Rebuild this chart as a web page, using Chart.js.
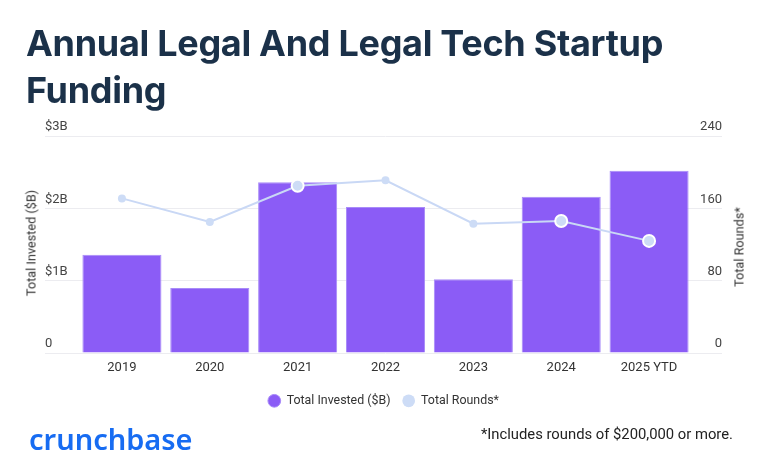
<!DOCTYPE html>
<html>
<head>
<meta charset="utf-8">
<script src="https://cdn.jsdelivr.net/npm/chart.js@4.4.1/dist/chart.umd.min.js"></script>
<style>
    html, body { margin: 0; padding: 0; background: #fff; }
    #wrap { position: relative; width: 772px; height: 472px; overflow: hidden; }
    #chart { position: absolute; left: 0; top: 0; }
    .title {
        position: absolute; left: 26px; top: 20px; margin: 0;
        font-family: Inter, sans-serif; font-weight: 700; font-size: 36px;
        line-height: 47px; color: #1b3149; letter-spacing: -0.3px;
    }
    .axis-title {
        position: absolute; font-family: Roboto, sans-serif; font-size: 12.7px;
        color: #333; white-space: nowrap; transform-origin: center center;
        transform: translate(-50%, -50%) rotate(-90deg);
    }
    .logo {
        position: absolute; left: 29px; top: 419px;
        font-family: "Noto Sans", sans-serif; font-weight: 600; font-size: 29px;
        color: #176cf2;
    }
    .note {
        position: absolute; right: 39px; top: 425px;
        font-family: Roboto, sans-serif; font-size: 14.8px; color: #222;
    }
</style>
</head>
<body>
<div id="wrap">
    <canvas id="chart" width="772" height="472"></canvas>
    <h1 class="title">Annual Legal And Legal Tech Startup<br>Funding</h1>
    <div class="axis-title" style="left:31px; top:243px;">Total Invested ($B)</div>
    <div class="axis-title" style="left:739px; top:247px;">Total Rounds*</div>
    <div class="logo">crunchbase</div>
    <div class="note">*Includes rounds of $200,000 or more.</div>
</div>
<script>
// --- DATA ---
const years = ['2019', '2020', '2021', '2022', '2023', '2024', '2025 YTD'];
const investedB = [1.36, 0.90, 2.36, 2.02, 1.02, 2.16, 2.52];
const totalRounds = [171, 145, 185, 191, 143, 146, 124];
const leftTicks = ['0', '$1B', '$2B', '$3B'];
const rightTicks = ['0', '80', '160', '240'];

// --- COLORS ---
const barColor = '#8b5cf6';
const lineColor = '#c9d8f5';
const gridColor = '#ececf0';

// bigger white-ringed markers on the highlighted years
const pointSize = [4, 4, 6, 4, 4, 6, 6];
const pointRing = [0, 0, 2, 0, 0, 2, 2];

const tickFont = { family: 'Roboto', size: 13 };

const ctx = document.getElementById('chart');

new Chart(ctx, {
    data: {
        labels: years,
        datasets: [
            {
                type: 'bar',
                label: 'Total Invested ($B)',
                data: investedB,
                yAxisID: 'yLeft',
                backgroundColor: barColor,
                borderColor: '#a88bf8',
                borderWidth: 1,
                categoryPercentage: 1,
                barPercentage: 0.9,
                order: 1
            },
            {
                type: 'line',
                label: 'Total Rounds*',
                data: totalRounds,
                yAxisID: 'yRight',
                borderColor: lineColor,
                backgroundColor: '#cddcf6',
                borderWidth: 2,
                pointBackgroundColor: '#cddcf6',
                pointBorderColor: '#fff',
                pointRadius: pointSize,
                pointBorderWidth: pointRing,
                tension: 0,
                order: 0
            }
        ]
    },
    options: {
        responsive: false,
        animation: false,
        layout: { padding: { left: 45, right: 50, top: 136, bottom: 55 } },
        plugins: {
            tooltip: { enabled: false },
            legend: {
                position: 'bottom',
                labels: {
                    usePointStyle: true,
                    pointStyle: 'circle',
                    boxWidth: 13,
                    boxHeight: 9,
                    padding: 12,
                    color: '#333',
                    font: { family: 'Roboto', size: 12.4 },
                    sort: (a, b) => a.datasetIndex - b.datasetIndex
                }
            }
        },
        scales: {
            x: {
                grid: { display: false, drawTicks: false },
                border: { display: false },
                ticks: { color: '#333', font: tickFont, padding: 7, maxRotation: 0 }
            },
            yLeft: {
                position: 'left',
                min: 0, max: 3,
                afterFit: (scale) => { scale.width = 33; },
                grid: { color: gridColor, tickLength: 33 },
                border: { display: false },
                ticks: {
                    stepSize: 1,
                    crossAlign: 'far',
                    labelOffset: -9,
                    color: '#444',
                    font: tickFont,
                    callback: (v) => leftTicks[v]
                }
            },
            yRight: {
                position: 'right',
                min: 0, max: 240,
                afterFit: (scale) => { scale.width = 29; },
                grid: { color: gridColor, tickLength: 29, drawOnChartArea: false },
                border: { display: false },
                ticks: {
                    stepSize: 80,
                    crossAlign: 'far',
                    labelOffset: -9,
                    color: '#444',
                    font: tickFont,
                    callback: (v) => rightTicks[v / 80]
                }
            }
        }
    }
});
</script>
</body>
</html>
